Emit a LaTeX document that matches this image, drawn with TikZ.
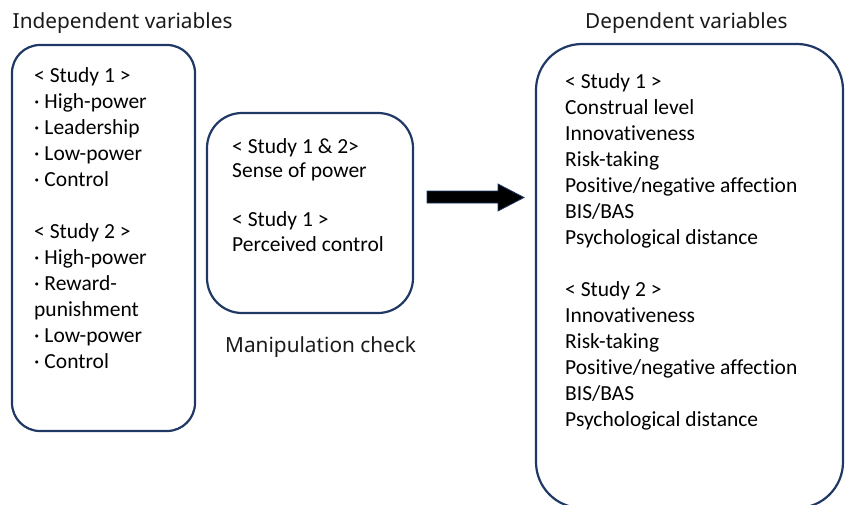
\documentclass[tikz,border=0pt]{standalone}
\usepackage{fontspec}
\newfontfamily\boxfont[Ligatures=NoCommon]{Carlito}
\newfontfamily\titlefont{Noto Sans}
\definecolor{navy}{HTML}{1F3864}
\definecolor{titlegray}{HTML}{1A1A1A}
\begin{document}
\begin{tikzpicture}[x=1pt,y=-1pt,
  box/.style={draw=navy,line width=2.2pt},
  txt/.style={anchor=base west,inner sep=0pt,font=\boxfont\fontsize{21.5}{26}\selectfont},
  ttl/.style={anchor=base west,inner sep=0pt,text=titlegray,font=\titlefont\fontsize{20.8}{25}\selectfont},
  blockarrow/.style={fill=black,draw=navy,line width=0.8pt}]
\useasboundingbox (0,0) rectangle (846,504);
% boxes
\draw[box,rounded corners=28pt] (12,45) rectangle (195,431);
\draw[box,rounded corners=35pt] (207,113) rectangle (413,313);
\draw[box,rounded corners=46pt] (536,44) rectangle (843,508);
% titles
\node[ttl] (t1) at (12.5,28) {Independent variables};
\node[ttl] (t2) at (585,28) {Dependent variables};
\node[ttl] (t3) at (225,352) {Manipulation check};
% left box text
\foreach \s [count=\i from 0] in {{< Study 1 >},{· High-power},{· Leadership},{· Low-power},{· Control},{},{< Study 2 >},{· High-power},{· Reward-},{punishment},{· Low-power},{· Control}}
  \node[txt] (l\i) at (34,82+26*\i) {\s};
% middle box text
\node[txt] (m1) at (232,153) {< Study 1 \& 2>};
\node[txt] (m2) at (232,177.5) {Sense of power};
\node[txt] (m3) at (232,226.5) {< Study 1 >};
\node[txt] (m4) at (232,251) {Perceived control};
% right box text
\foreach \s [count=\i from 0] in {{< Study 1 >},{Construal level},{Innovativeness},{Risk-taking},{Positive/negative affection},{BIS/BAS},{Psychological distance},{},{< Study 2 >},{Innovativeness},{Risk-taking},{Positive/negative affection},{BIS/BAS},{Psychological distance}}
  \node[txt] (r\i) at (565,88+26*\i) {\s};
% block arrow
\draw[blockarrow] (427,191) -- (498,191) -- (498,184) -- (524,197.5) -- (498,211) -- (498,203) -- (427,203) -- cycle;
\end{tikzpicture}
\end{document}
